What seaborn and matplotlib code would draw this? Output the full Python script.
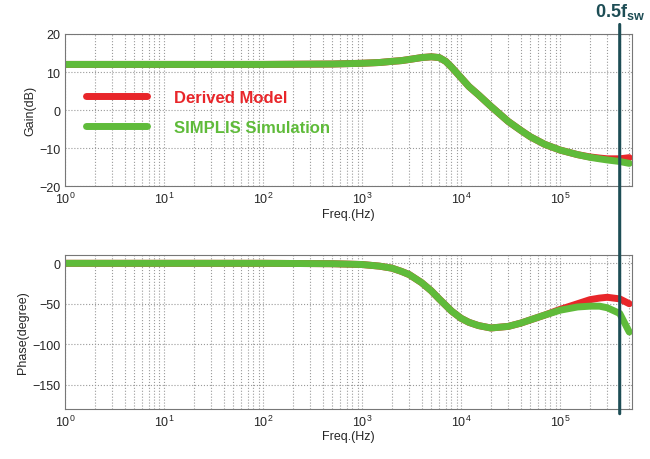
import numpy as np
import pandas as pd
import seaborn as sns
import matplotlib.pyplot as plt
from matplotlib.patches import ConnectionPatch

# ==============================================================================
# BODE PLOT: DERIVED MODEL vs SIMPLIS SIMULATION
# ==============================================================================

freq = [1, 10, 100, 500, 1000, 1500, 2000, 2500, 3000, 4000, 5000, 6000, 7000, 8000,
        10000, 12000, 15000, 20000, 30000, 40000, 50000, 70000, 100000, 150000,
        200000, 250000, 300000, 400000, 500000]

gain_model = [12, 12, 12, 12.1, 12.3, 12.5, 12.8, 13.0, 13.3, 13.8, 14.0, 13.8, 12.8, 11.3,
              8.5, 6.2, 4.0, 1.0, -3.0, -5.3, -7.0, -9.0, -10.5, -11.7,
              -12.3, -12.6, -12.8, -12.8, -12.5]
gain_sim = [12, 12, 12, 12.1, 12.3, 12.5, 12.8, 13.0, 13.3, 13.8, 14.0, 13.8, 12.8, 11.3,
            8.5, 6.2, 4.0, 1.0, -3.0, -5.3, -7.0, -9.0, -10.5, -11.7,
            -12.4, -12.8, -13.1, -13.5, -14.0]

phase_model = [0, 0, 0, -0.5, -1.5, -3.5, -6, -10, -14, -24, -34, -44, -52, -59,
               -68, -73, -77, -80, -78, -74, -70, -64, -57, -50,
               -45, -43, -42, -44, -50]
phase_sim = [0, 0, 0, -0.5, -1.5, -3.5, -6, -10, -14, -24, -34, -44, -52, -59,
             -68, -73, -77, -80, -78, -74, -70, -64, -58, -54,
             -53, -53, -55, -62, -85]

f_half_sw = 4e5
labels = ['Derived Model', 'SIMPLIS Simulation']
colors = ['#e8262a', '#5fbb3a']

df_gain = pd.DataFrame({'Freq': freq * 2, 'Value': gain_model + gain_sim,
                        'Series': [labels[0]] * len(freq) + [labels[1]] * len(freq)})
df_phase = pd.DataFrame({'Freq': freq * 2, 'Value': phase_model + phase_sim,
                         'Series': [labels[0]] * len(freq) + [labels[1]] * len(freq)})

sns.set_style('white')
plt.rcParams['font.family'] = ['Liberation Sans', 'DejaVu Sans']

fig = plt.figure(figsize=(6.5, 4.6), dpi=100)
ax1 = fig.add_axes([0.1, 0.593, 0.872, 0.331])
ax2 = fig.add_axes([0.1, 0.109, 0.872, 0.334])

palette = dict(zip(labels, colors))
for ax, df in [(ax1, df_gain), (ax2, df_phase)]:
    sns.lineplot(data=df, x='Freq', y='Value', hue='Series', palette=palette,
                 linewidth=5, ax=ax, legend=(ax is ax1), sort=True)
    ax.set_xscale('log')
    ax.set_xlim(1, 5.3e5)
    ax.grid(True, which='both', linestyle=':', color='#9a9a9a', linewidth=0.8)
    ax.set_xlabel('Freq.(Hz)', fontsize=9, labelpad=1)
    ax.set_xticks([1, 10, 100, 1e3, 1e4, 1e5])
    ax.tick_params(labelsize=9, direction='in', length=3)
    for s in ax.spines.values():
        s.set_color('#777777')
        s.set_linewidth(0.8)

ax1.set_ylim(-20, 20)
ax1.set_yticks([-20, -10, 0, 10, 20])
ax1.set_ylabel('Gain(dB)', fontsize=9, labelpad=2)

ax2.set_ylim(-180, 10)
ax2.set_yticks([0, -50, -100, -150])
ax2.set_ylabel('Phase(degree)', fontsize=9, labelpad=2)

leg = ax1.legend(loc='upper left', bbox_to_anchor=(0.01, 0.73), frameon=False,
                 handlelength=3.7, handletextpad=1.6, labelspacing=0.9,
                 prop={'weight': 'bold', 'size': 12})
for text, c in zip(leg.get_texts(), colors):
    text.set_color(c)
for line in leg.get_lines():
    line.set_linewidth(5)

# 0.5 f_sw marker spanning both plots
con = ConnectionPatch(xyA=(f_half_sw, 22.5), coordsA=ax1.transData,
                      xyB=(f_half_sw, -186), coordsB=ax2.transData,
                      color='#1d4d55', linewidth=2.2, zorder=10)
fig.add_artist(con)
ax1.text(f_half_sw, 23.5, r'0.5f$_{\mathregular{sw}}$', color='#1d4d55',
         fontsize=13, fontweight='bold', ha='center', va='bottom', clip_on=False)

plt.savefig('out.png', dpi=100)
